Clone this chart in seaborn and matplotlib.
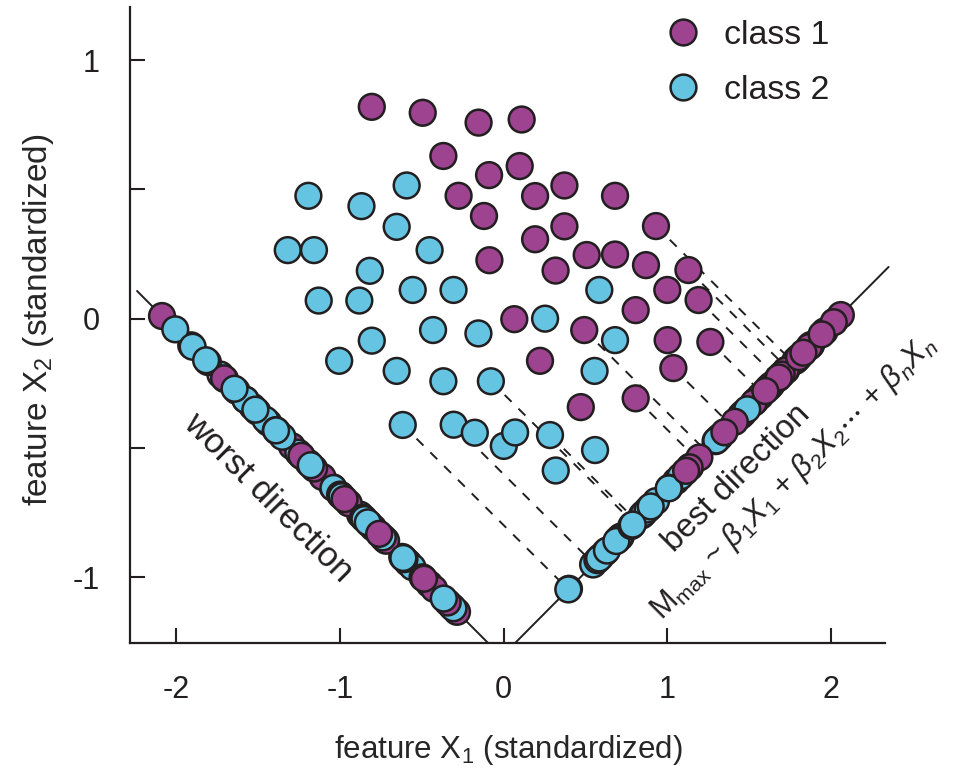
import numpy as np
import pandas as pd
import matplotlib
matplotlib.use("Agg")
import matplotlib.pyplot as plt
import seaborn as sns
from matplotlib.lines import Line2D

# ---------------- data ----------------
class1_x = [-0.805, -0.494, -0.153, 0.110, -0.368, -0.089, 0.098, -0.275, -0.120, 0.192,
            0.371, 0.680, 0.371, 0.192, 0.930, -0.087, 0.507, 0.680, 0.869, 1.128,
            0.317, 0.999, 1.190, 0.806, 0.065, 0.492, 1.001, 1.262, 0.222, 1.036,
            0.806, 0.471]
class1_y = [0.819, 0.796, 0.758, 0.770, 0.629, 0.555, 0.590, 0.475, 0.397, 0.474,
            0.515, 0.475, 0.357, 0.307, 0.358, 0.226, 0.246, 0.248, 0.207, 0.188,
            0.186, 0.111, 0.072, 0.033, -0.002, -0.044, -0.083, -0.090, -0.163, -0.191,
            -0.308, -0.342]
class1_dashed = [0, 0, 0, 0, 0, 0, 0, 0, 0, 0,
                 0, 0, 0, 0, 1, 0, 0, 0, 0, 1,
                 0, 0, 1, 0, 0, 1, 0, 1, 0, 1,
                 1, 0]

class2_x = [-0.592, -1.192, -0.868, -0.653, -1.318, -1.158, -0.452, -0.817, -1.129, -0.881,
            -0.555, -0.306, 0.584, 0.253, -0.431, -0.154, -0.805, -1.004, -0.653, -0.368,
            -0.078, 0.680, 0.555, -0.616, -0.305, -0.176, 0.001, 0.070, 0.283, 0.558,
            0.318]
class2_y = [0.515, 0.475, 0.435, 0.355, 0.265, 0.265, 0.265, 0.185, 0.070, 0.070,
            0.111, 0.111, 0.111, 0.000, -0.044, -0.057, -0.085, -0.163, -0.202, -0.242,
            -0.242, -0.083, -0.202, -0.411, -0.410, -0.441, -0.492, -0.440, -0.450, -0.508,
            -0.587]
class2_dashed = [0, 0, 0, 0, 0, 0, 0, 0, 0, 0,
                 0, 0, 0, 0, 0, 0, 0, 0, 0, 0,
                 1, 0, 0, 1, 1, 0, 0, 0, 1, 0,
                 0]

class_labels = ["class 1", "class 2"]
class_colors = ["#9D4390", "#66C4E3"]

best_line_x = [0.070, 2.350]
best_line_y = [-1.254, 0.200]
worst_line_x = [-2.238, -0.095]
worst_line_y = [0.107, -1.254]
# spread of the projected markers along each direction, as drawn in the figure
best_spread = 1.21
worst_spread = 1.03

x_ticks = [-2, -1, 0, 1, 2]
y_ticks = [-1, 0, 1]
y_minor_ticks = [-0.5, 0.5]
x_limits = (-2.281, 2.328)
y_limits = (-1.254, 1.205)

x_label = "feature X$_{1}$ (standardized)"
y_label = "feature X$_{2}$ (standardized)"
worst_text = "worst direction"
best_text = "best direction"
model_text = r"M$_{\rm max}$ ~ $\beta_{1}X_{1}$ + $\beta_{2}X_{2}\cdots$ + $\beta_{n}X_{n}$"

# ---------------- style ----------------
sns.set_style("ticks")
INK = "#231F20"
plt.rcParams["font.family"] = ["Liberation Sans", "DejaVu Sans"]
plt.rcParams["mathtext.fontset"] = "custom"
plt.rcParams["mathtext.rm"] = "Liberation Sans"
plt.rcParams["mathtext.it"] = "Liberation Sans:italic"
plt.rcParams["mathtext.bf"] = "Liberation Sans:bold"
plt.rcParams["text.color"] = INK

FS = 22
LEG_FS = 24.4
MS = 345          # marker area (pt^2)
EDGE_LW = 1.8

fig = plt.figure(figsize=(9.62, 7.69), dpi=100)
ax = fig.add_axes([130 / 962, 1 - 643 / 769, 755 / 962, 636 / 769])
ax.set_xlim(*x_limits)
ax.set_ylim(*y_limits)

df = pd.concat([
    pd.DataFrame({"x": class1_x, "y": class1_y, "cls": class_labels[0],
                  "dashed": class1_dashed, "k": range(len(class1_x))}),
    pd.DataFrame({"x": class2_x, "y": class2_y, "cls": class_labels[1],
                  "dashed": class2_dashed, "k": range(len(class2_x))}),
], ignore_index=True)
palette = dict(zip(class_labels, class_colors))

# ---------------- projections (computed in display space) ----------------
T = ax.transData


def project(xs, ys, lx, ly, spread=1.0):
    A = T.transform((lx[0], ly[0]))
    B = T.transform((lx[1], ly[1]))
    u = (B - A) / np.linalg.norm(B - A)
    P = T.transform(np.column_stack([xs, ys]))
    t = (P - A) @ u
    foot = T.inverted().transform(A + np.outer(t, u))
    t0 = t.min()
    ts = t0 + spread * (t - t0)
    mark = T.inverted().transform(A + np.outer(ts, u))
    return foot, mark


foot_b, mark_b = project(df["x"], df["y"], best_line_x, best_line_y, best_spread)
foot_w, mark_w = project(df["x"], df["y"], worst_line_x, worst_line_y, worst_spread)
df["fx"], df["fy"] = foot_b[:, 0], foot_b[:, 1]
df["bx"], df["by"] = mark_b[:, 0], mark_b[:, 1]
df["wx"], df["wy"] = mark_w[:, 0], mark_w[:, 1]

# direction lines
ax.plot(best_line_x, best_line_y, color=INK, lw=1.4, zorder=1, clip_on=False)
ax.plot(worst_line_x, worst_line_y, color=INK, lw=1.4, zorder=1, clip_on=False)

# dashed projection guides (perpendicular to the best direction)
for _, r in df[df["dashed"] == 1].iterrows():
    ax.plot([r["x"], r["fx"]], [r["y"], r["fy"]], color=INK, lw=1.4,
            linestyle=(0, (5, 5)), zorder=1.5)

order = df.sort_values(["k", "cls"]).reset_index(drop=True)
proj_best = pd.DataFrame({"x": order["bx"], "y": order["by"], "cls": order["cls"]})
proj_worst = pd.DataFrame({"x": order["wx"], "y": order["wy"], "cls": order["cls"]})

common = dict(hue="cls", palette=palette, s=MS, edgecolor=INK, linewidth=EDGE_LW,
              legend=False, ax=ax)
sns.scatterplot(data=proj_worst, x="x", y="y", zorder=2, **common)
sns.scatterplot(data=proj_best, x="x", y="y", zorder=2, **common)
sns.scatterplot(data=df, x="x", y="y", zorder=3, **common)

# ---------------- axes ----------------
sns.despine(ax=ax)
for s in ("left", "bottom"):
    ax.spines[s].set_linewidth(1.6)
    ax.spines[s].set_color(INK)
ax.set_xticks(x_ticks)
ax.set_xticklabels([str(v) for v in x_ticks])
ax.set_yticks(y_ticks)
ax.set_yticklabels([str(v) for v in y_ticks])
ax.set_yticks(y_minor_ticks, minor=True)
ax.tick_params(which="both", direction="in", length=10.8, width=1.5, color=INK,
               labelsize=FS, labelcolor=INK)
ax.tick_params(axis="x", pad=23)
ax.tick_params(axis="y", pad=22)

ax.set_xlabel(x_label, fontsize=22.5)
ax.set_ylabel(y_label, fontsize=24)
ax.xaxis.set_label_coords(0.5007, -0.141)
ax.yaxis.set_label_coords(-0.098, 0.508)

# annotations
ax.text(-1.438, -0.690, worst_text, rotation=-45, rotation_mode="anchor",
        ha="center", va="center", fontsize=25)
ax.text(1.425, -0.616, best_text, rotation=45, rotation_mode="anchor",
        ha="center", va="center", fontsize=23.5)
ax.text(1.767, -0.613, model_text, rotation=45, rotation_mode="anchor",
        ha="center", va="center", fontsize=22)

# legend
handles = [Line2D([0], [0], marker="o", linestyle="", markersize=np.sqrt(MS),
                  markerfacecolor=c, markeredgecolor=INK, markeredgewidth=EDGE_LW)
           for c in class_colors]
ax.legend(handles, class_labels, loc="upper left", bbox_to_anchor=(0.710, 0.980),
          frameon=False, fontsize=LEG_FS, handlelength=1.0, handletextpad=0.71,
          labelspacing=0.72, borderpad=0, borderaxespad=0)

fig.savefig("out.png", dpi=100)
